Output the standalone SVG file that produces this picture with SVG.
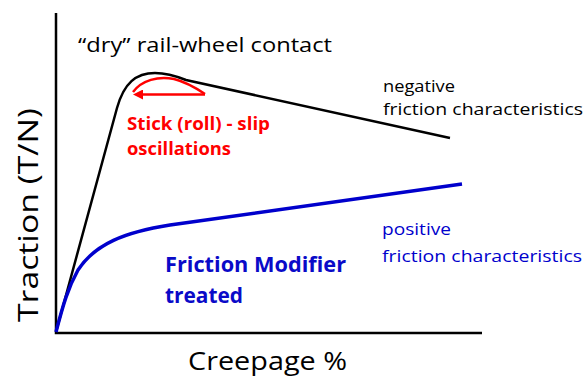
<svg xmlns="http://www.w3.org/2000/svg" width="586" height="380" viewBox="0 0 586 380">
<style>
.t{font-family:"Open Sans","Liberation Sans",sans-serif;}
.blk{fill:#000;}
.red{fill:#ff0000;font-weight:bold;}
.blue{fill:#0000cc;}
.bb{fill:#0a0ac8;font-weight:bold;}
</style>
<defs>
<marker id="ah" viewBox="0 0 10 10" refX="1" refY="5" markerWidth="4" markerHeight="4" orient="auto-start-reverse" markerUnits="strokeWidth">
<path d="M0,0 L10,5 L0,10 z" fill="#ff0000"/>
</marker>
</defs>
<rect width="586" height="380" fill="#fff"/>
<g id="axes" fill="none" stroke="#000" stroke-width="2.5">
<path d="M56,13 L56,333 L482,333"/>
</g>
<g id="connectors" fill="none">
<path id="dry-curve" d="M56,332 L117,108 C124,83 136,73 155,73 C167,73 176,76 186,80 L450,138" stroke="#000" stroke-width="2.5"/>
<path id="fm-curve" d="M56,332 C63,305 68,288 78,270 C95,244 125,232 170,225 L462,184" stroke="#0000cc" stroke-width="3.5"/>
<path id="osc-curve" d="M133,92 C142,80 158,76 174,79 C186,82 196,88 205,94" stroke="#ff0000" stroke-width="2.5"/>
<path id="osc-arrow" d="M205,94.5 L142,94.5" stroke="#ff0000" stroke-width="2.5" marker-end="url(#ah)"/>
</g>
<g id="title"><text class="t blk" x="78" y="52" font-size="20" textLength="254" lengthAdjust="spacingAndGlyphs">“dry” rail-wheel contact</text></g>
<g id="neg-label">
<text class="t blk" x="383" y="92" font-size="17" textLength="72" lengthAdjust="spacingAndGlyphs">negative</text>
<text class="t blk" x="383" y="115" font-size="17" textLength="200" lengthAdjust="spacingAndGlyphs">friction characteristics</text>
</g>
<g id="osc-label">
<text class="t red" x="127" y="130" font-size="17" textLength="143" lengthAdjust="spacingAndGlyphs">Stick (roll) - slip</text>
<text class="t red" x="127" y="155" font-size="17" textLength="104" lengthAdjust="spacingAndGlyphs">oscillations</text>
</g>
<g id="pos-label">
<text class="t blue" x="382" y="235" font-size="17" textLength="69" lengthAdjust="spacingAndGlyphs">positive</text>
<text class="t blue" x="382" y="262" font-size="17" textLength="200" lengthAdjust="spacingAndGlyphs">friction characteristics</text>
</g>
<g id="fm-label">
<text class="t bb" x="165" y="272" font-size="21" textLength="181" lengthAdjust="spacingAndGlyphs">Friction Modifier</text>
<text class="t bb" x="165" y="303" font-size="21" textLength="78" lengthAdjust="spacingAndGlyphs">treated</text>
</g>
<g id="x-label"><text class="t blk" x="188" y="370" font-size="26" textLength="159" lengthAdjust="spacingAndGlyphs">Creepage %</text></g>
<g id="y-label"><text class="t blk" transform="translate(38,322) rotate(-90)" x="0" y="0" font-size="28" textLength="214" lengthAdjust="spacingAndGlyphs">Traction (T/N)</text></g>
</svg>
